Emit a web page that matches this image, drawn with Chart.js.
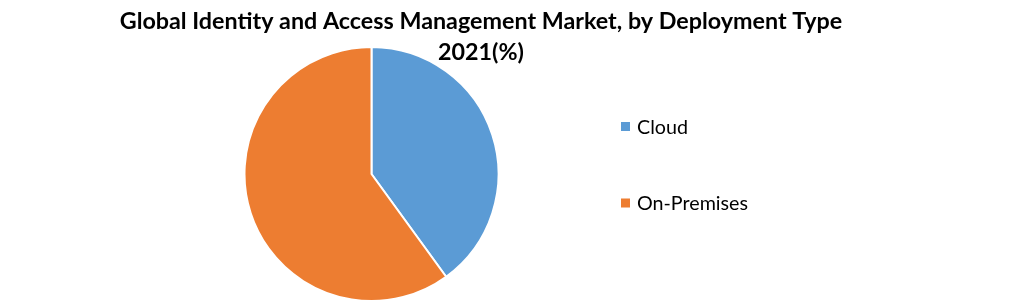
<!DOCTYPE html>
<html>
<head>
<meta charset="utf-8">
<script src="https://cdn.jsdelivr.net/npm/chart.js@4"></script>
<style>
  html, body { margin: 0; padding: 0; background: #fff; }
  #wrap { width: 1021px; height: 304px; }
</style>
</head>
<body>
<div id="wrap"><canvas id="pieChart"></canvas></div>
<script>
// data
var titleLines = ["Global Identity and Access Management Market, by Deployment Type", "2021(%)"];
var categories = ["Cloud", "On-Premises"];
var shares = [40, 60];
var colors = ['#5B9BD5', '#ED7D31'];

// title + legend drawn at fixed spots around the pie
var sideText = {
    id: 'sideText',
    afterDraw: function (chart) {
        var ctx = chart.ctx;
        ctx.save();
        ctx.fillStyle = '#000';
        ctx.font = 'bold 23.3px Lato';
        ctx.textAlign = 'center';
        ctx.textBaseline = 'alphabetic';
        ctx.fillText(titleLines[0], 481, 29);
        ctx.fillText(titleLines[1], 481, 60);

        var ys = [126.5, 203];
        ctx.font = '19.7px Lato';
        ctx.textAlign = 'left';
        ctx.textBaseline = 'middle';
        chart.data.labels.forEach(function (lbl, i) {
            ctx.fillStyle = chart.data.datasets[0].backgroundColor[i];
            ctx.fillRect(621, ys[i] - 4.5, 9, 9);
            ctx.fillStyle = '#000';
            ctx.fillText(lbl, 637, ys[i] + 1);
        });
        ctx.restore();
    }
};

var ctxP = document.getElementById('pieChart').getContext('2d');
var myPieChart = new Chart(ctxP, {
    type: 'pie',
    data: {
        labels: categories,
        datasets: [
            {
                data: shares,
                backgroundColor: colors,
                borderColor: '#fff',
                borderWidth: 2,
                radius: 127
            }
        ]
    },
    options: {
        responsive: true,
        maintainAspectRatio: false,
        animation: false,
        layout: {
            padding: { top: 47, bottom: 3, left: 245, right: 523 }
        },
        plugins: {
            legend: { display: false },
            title: { display: false },
            tooltip: { enabled: false }
        }
    },
    plugins: [sideText]
});
</script>
</body>
</html>
